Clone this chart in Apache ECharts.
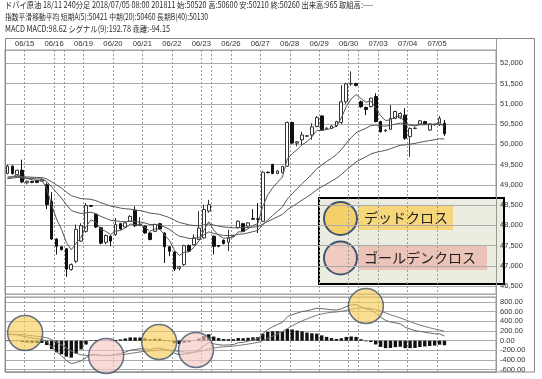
<!DOCTYPE html>
<html><head><meta charset="utf-8">
<script src="https://cdn.jsdelivr.net/npm/echarts@6/dist/echarts.min.js"></script>
<style>html,body{margin:0;padding:0;background:#fff}#c{width:542px;height:379px}</style>
</head><body><div id="c"></div>
<script>
// ---- data (240-minute bars) ----
const opens  = [49280,49460,49250,49360,49050,49080,49110,49090,49000,48590,47660,47470,47420,46910,47110,47610,47850,48490,48270,47940,47580,47730,47770,48040,47960,48100,48370,48000,47980,47810,47850,48040,47810,47470,47340,46940,47030,47500,47520,47650,47690,48350,47730,47500,47630,47580,47730,47940,48040,47980,48170,48160,48100,49310,49500,49280,49300,49460,50540,50030,50110,50200,50230,50440,50700,50390,50390,50450,50540,51050,51490,51500,51050,50910,50930,51180,50560,50330,50370,50640,50650,50720,50190,50390,50500,50560,50350,50480,50480,50520];
const highs  = [49500,49480,49370,49620,49100,49100,49120,49150,49050,48820,47680,47480,47440,47060,48020,48050,48550,48500,48290,47960,47770,47750,48180,48060,48090,48250,48470,48200,48000,47830,48040,48060,47830,47480,47360,47000,47520,47530,47780,48350,48510,48630,47750,47510,47650,47890,47770,48120,48060,48080,48400,48550,49330,49330,49520,49360,49470,50560,50560,50080,50310,50230,50520,50700,50720,50420,50470,50580,51460,51520,51800,51520,51080,50930,51150,51260,50580,50370,50970,50830,50790,50890,50420,50420,50600,50580,50520,50510,50700,50600];
const lows   = [49260,49250,49230,49040,49010,49040,49040,49080,48400,47640,47280,47380,46730,46880,47070,47590,47820,48450,47930,47530,47530,47480,47740,47890,47940,48080,47960,47980,47790,47630,47830,47890,47070,47240,46870,46890,47000,47340,47500,47630,47670,48310,47280,47460,47530,47360,47710,47920,47830,47960,48140,47810,48090,49280,49260,49260,49280,49440,50000,49950,49980,50180,50110,50420,50330,50370,50380,50430,50500,51000,51440,51430,50900,50720,50910,50540,50290,50300,50350,50620,50620,50110,49690,50370,50480,50480,50330,50460,50450,50210];
const closes = [49460,49280,49360,49070,49090,49060,49060,49130,48510,47660,47480,47400,46920,47030,47900,47990,48490,48470,47960,47560,47750,47610,48020,47910,48060,48220,47990,48030,47810,47650,48020,47910,47470,47360,46920,46980,47500,47360,47690,47930,48390,48510,47480,47480,47550,47690,47750,48100,47850,48060,48150,48150,49310,49300,49280,49340,49450,50540,50030,50060,50230,50210,50430,50660,50350,50400,50450,50560,51050,51490,51500,51450,50930,50860,51140,50560,50310,50350,50640,50810,50760,50150,50390,50400,50580,50500,50500,50490,50640,50260];
// exponential moving averages
const emaShort = [49160,49200,49250,49190,49157,49125,49103,49112,48911,48494,48156,47904,47576,47394,47563,47705,47967,48135,48077,47905,47853,47772,47855,47873,47935,48030,48017,48021,47951,47851,47907,47908,47762,47628,47392,47255,47337,47345,47460,47617,47875,48087,47885,47750,47683,47685,47707,47838,47842,47915,47993,48045,48467,48745,48923,49062,49191,49641,49771,49867,49988,50062,50185,50343,50345,50363,50392,50448,50649,50929,51119,51229,51129,51039,51073,50902,50705,50587,50605,50673,50702,50518,50475,50450,50493,50495,50497,50495,50543,50421];
const emaMid   = [49152,49164,49183,49172,49164,49154,49145,49144,49084,48948,48808,48674,48507,48366,48322,48290,48309,48324,48289,48220,48175,48121,48111,48092,48089,48101,48090,48084,48058,48019,48019,48009,47958,47901,47808,47729,47707,47674,47676,47700,47766,47837,47803,47772,47751,47745,47745,47779,47786,47812,47844,47873,48010,48133,48242,48346,48451,48650,48781,48903,49029,49141,49264,49397,49488,49575,49658,49744,49868,50022,50162,50284,50345,50394,50465,50474,50458,50448,50466,50499,50524,50488,50479,50471,50481,50483,50485,50485,50500,50460];
const emaLong  = [49194,49198,49206,49199,49194,49187,49181,49179,49146,49074,48996,48918,48821,48734,48693,48659,48651,48642,48609,48558,48519,48475,48453,48426,48408,48399,48379,48362,48335,48302,48288,48270,48231,48188,48126,48070,48042,48009,47993,47990,48010,48034,48007,47981,47960,47947,47937,47945,47940,47946,47956,47965,48031,48093,48151,48209,48270,48381,48461,48539,48622,48699,48784,48876,48948,49019,49089,49161,49253,49362,49466,49563,49630,49690,49761,49800,49825,49851,49890,49935,49975,49984,50004,50023,50050,50072,50093,50112,50138,50130];
// MACD panel
const macdLine   = [130,123,122,96,76,57,42,35,-20,-130,-230,-312,-411,-475,-450,-418,-349,-292,-285,-308,-307,-314,-284,-266,-236,-197,-183,-167,-169,-183,-162,-152,-177,-204,-258,-292,-275,-269,-235,-186,-109,-38,-64,-84,-93,-88,-79,-43,-34,-10,17,38,146,228,288,337,380,496,540,572,604,620,644,673,664,653,641,633,659,707,737,748,707,661,639,569,487,421,388,370,348,279,241,208,194,176,159,143,141,98.62];
const signalLine = [138,135,132,125,115,103,91,80,60,22,-28,-85,-150,-215,-262,-293,-304,-302,-299,-301,-302,-304,-300,-293,-282,-265,-249,-232,-220,-213,-203,-193,-190,-193,-206,-223,-233,-240,-239,-228,-204,-171,-150,-137,-128,-120,-112,-98,-85,-70,-53,-35,1,46,94,143,190,251,309,362,410,452,490,527,554,574,587,596,609,629,650,670,677,674,667,647,615,576,538,504,473,434,395,358,325,295,268,243,223,192.78];
const histogram  = [-8,-12,-10,-29,-39,-46,-49,-45,-90,-175,-240,-280,-330,-350,-270,-180,-80,10,14,-7,-5,-10,16,27,46,68,66,65,51,30,41,41,13,-11,-52,-69,-42,-29,4,42,95,133,86,53,35,32,33,55,51,60,70,73,145,182,194,194,190,245,231,210,194,168,154,146,110,79,54,37,50,78,87,78,30,-13,-28,-78,-128,-155,-150,-134,-125,-155,-154,-150,-131,-119,-109,-100,-82,-94.15];
// x axis: day labels and where each trading day starts (bar index)
const dayLabels   = ['06/15','06/16','06/19','06/20','06/21','06/22','06/23','06/26','06/27','06/28','06/29','06/30','07/03','07/04','07/05'];
const dayStarts   = [4,10,16,22,28,34,40,46,52,58,64,70,76,82,88];
const sessionBreaks = [12,42,72];
const slotCount = 100;
// cross annotations [bar position, MACD value]
const deadCrosses   = [[3.6,159],[30.9,-27],[73.0,718]];
const goldenCrosses = [[20.1,-317],[38.4,-193]];
const headerLines = [
  'ドバイ原油 18/11 240分足 2018/07/05 08:00 201811 始:50520 高:50600 安:50210 終:50260 出来高:965 取組高:----',
  '指数平滑移動平均 短期A(5):50421 中期(20):50460 長期B(40):50130',
  'MACD MACD:98.62 シグナル(9):192.78 乖離:-94.15'
];
const headerWidths = [368, 203, 165];

const cats = [];
for (let i = 0; i < slotCount; i++) cats.push('b' + i);
const labelAt = {};
dayStarts.forEach((k, j) => labelAt[k] = dayLabels[j]);
const lineSet = new Set(dayStarts.concat(sessionBreaks));
const candleData = opens.map((o, i) => [o, closes[i], lows[i], highs[i]]);
const lastClose = closes[closes.length - 1];

const numFont = 'Liberation Sans';
const jpFont = '"Noto Sans CJK JP"';
const headFont = '8.5px ' + jpFont;
const ctx = document.createElement('canvas').getContext('2d');
ctx.font = headFont;
const headerGraphics = headerLines.map((t, i) => {
  const w = ctx.measureText(t).width;
  return {type: 'text', x: 5, y: 1 + i * 12, scaleX: headerWidths[i] / w,
          style: {text: t, font: headFont, fill: '#2a2a2a'}};
});

const chart = echarts.init(document.getElementById('c'), null, {width: 542, height: 379});
const dashed = {color: '#9a9a9a', type: [2, 2], width: 1};

chart.setOption({
  animation: false,
  backgroundColor: '#fff',
  grid: [
    {left: 5, top: 50, width: 491, height: 244, show: true, borderColor: '#999', borderWidth: 1},
    {left: 5, top: 297, width: 491, height: 75, show: true, borderColor: '#999', borderWidth: 1}
  ],
  xAxis: [
    {type: 'category', gridIndex: 0, data: cats, position: 'top', boundaryGap: true,
     axisLine: {show: false}, axisTick: {show: false},
     axisLabel: {interval: (i) => labelAt[i] !== undefined, formatter: (v, i) => labelAt[i] || '',
       fontSize: 7.7, color: '#333', margin: 2, padding: [0, 5, 0, 0], fontFamily: numFont},
     splitLine: {show: true, interval: (i) => lineSet.has(i), lineStyle: dashed}},
    {type: 'category', gridIndex: 1, data: cats, boundaryGap: true,
     axisLine: {show: false}, axisTick: {show: false}, axisLabel: {show: false},
     splitLine: {show: true, interval: (i) => lineSet.has(i), lineStyle: dashed}},
    {type: 'value', gridIndex: 1, min: -0.5, max: slotCount - 0.5, show: false}
  ],
  yAxis: [
    {type: 'value', gridIndex: 0, position: 'right', min: 46304, max: 52328, splitNumber: 12,
     axisLine: {show: false}, axisTick: {show: false},
     splitLine: {lineStyle: {color: '#aaa', width: 1}},
     axisLabel: {fontSize: 7.5, color: '#333', margin: 4, fontFamily: numFont,
       formatter: (v) => Math.abs(v % 500) < 0.01 ? Math.round(v).toLocaleString('en-US') : ''}},
    {type: 'value', gridIndex: 1, position: 'right', min: -648, max: 905, splitNumber: 8,
     axisLine: {show: false}, axisTick: {show: false},
     splitLine: {lineStyle: {color: '#aaa', width: 1}},
     axisLabel: {fontSize: 7.5, color: '#333', margin: 4, fontFamily: numFont,
       formatter: (v) => Math.abs(v % 200) < 0.01 ? v.toFixed(2) : ''}}
  ],
  series: [
    {type: 'candlestick', xAxisIndex: 0, yAxisIndex: 0, data: candleData, barWidth: 3.2,
     itemStyle: {color: '#fff', color0: '#111', borderColor: '#333', borderColor0: '#111', borderWidth: 1},
     markLine: {silent: true, symbol: ['none', 'none'], lineStyle: {opacity: 0},
       data: [{yAxis: lastClose}],
       label: {show: true, position: 'end', distance: 1, formatter: () => lastClose.toLocaleString('en-US'),
         backgroundColor: '#000', color: '#fff', fontSize: 9.5, fontFamily: numFont, padding: [1, 5, 0, 2]}}},
    {type: 'line', xAxisIndex: 0, yAxisIndex: 0, data: emaShort, symbol: 'none', lineStyle: {color: '#555', width: 1}},
    {type: 'line', xAxisIndex: 0, yAxisIndex: 0, data: emaMid, symbol: 'none', lineStyle: {color: '#555', width: 1}},
    {type: 'line', xAxisIndex: 0, yAxisIndex: 0, data: emaLong, symbol: 'none', lineStyle: {color: '#555', width: 1}},
    {type: 'bar', xAxisIndex: 1, yAxisIndex: 1, data: histogram, barWidth: 3.4, itemStyle: {color: '#111'}},
    {type: 'line', xAxisIndex: 1, yAxisIndex: 1, data: macdLine, symbol: 'none', lineStyle: {color: '#666', width: 1}},
    {type: 'line', xAxisIndex: 1, yAxisIndex: 1, data: signalLine, symbol: 'none', lineStyle: {color: '#777', width: 1}},
    {type: 'scatter', xAxisIndex: 2, yAxisIndex: 1, data: deadCrosses, symbolSize: 35, z: 10, silent: true,
     itemStyle: {color: 'rgba(246,204,92,0.82)', borderColor: '#41546E', borderWidth: 1.5}},
    {type: 'scatter', xAxisIndex: 2, yAxisIndex: 1, data: goldenCrosses, symbolSize: 35, z: 10, silent: true,
     itemStyle: {color: 'rgba(244,198,192,0.82)', borderColor: '#41546E', borderWidth: 1.5}}
  ],
  graphic: [
    {type: 'rect', shape: {x: 5.5, y: 38.5, width: 529, height: 333.5}, style: {fill: 'none', stroke: '#888', lineWidth: 1}, z: 1},
    {type: 'line', shape: {x1: 496.5, y1: 38, x2: 496.5, y2: 372}, style: {stroke: '#999', lineWidth: 1}, z: 1},
    ...headerGraphics,
    {type: 'group', z: 100, children: [
      {type: 'rect', shape: {x: 319, y: 198, width: 185, height: 86}, style: {fill: '#EAEDE0', stroke: '#000', lineWidth: 2}},
      {type: 'circle', shape: {cx: 340.5, cy: 218.5, r: 16.5}, style: {fill: '#F5CF6A', stroke: '#41546E', lineWidth: 2}},
      {type: 'circle', shape: {cx: 340.5, cy: 258, r: 16.5}, style: {fill: '#EFCBC2', stroke: '#41546E', lineWidth: 2}},
      {type: 'rect', shape: {x: 358, y: 206, width: 95, height: 24}, style: {fill: '#F8D77A'}},
      {type: 'rect', shape: {x: 358, y: 246, width: 129, height: 24}, style: {fill: '#ECC3B7'}},
      {type: 'text', x: 364, y: 218, style: {text: 'デッドクロス', font: '14px ' + jpFont, fill: '#222', verticalAlign: 'middle'}},
      {type: 'text', x: 364, y: 258, style: {text: 'ゴールデンクロス', font: '14px ' + jpFont, fill: '#222', verticalAlign: 'middle'}}
    ]}
  ]
});
</script></body></html>
